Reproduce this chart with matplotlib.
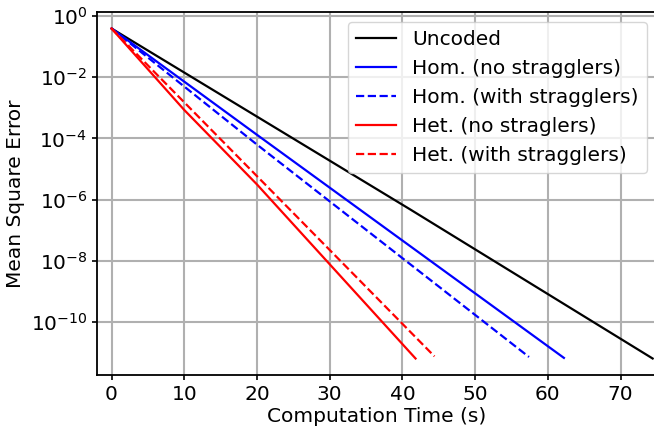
import numpy as np
import matplotlib
matplotlib.use('Agg')
import matplotlib.pyplot as plt

# computation time (s) and log10 of mean square error
uncoded_t = [0, 41.1, 74.4]
uncoded_log = [-0.41, -6.32, -11.18]
hom_t = [0, 20, 62.2]
hom_log = [-0.41, -3.88, -11.16]
hom_strag_t = [0, 20, 57.4]
hom_strag_log = [-0.41, -4.2, -11.13]
het_t = [0, 10, 20, 41.8]
het_log = [-0.41, -3.07, -5.5, -11.18]
het_strag_t = [0, 44.4]
het_strag_log = [-0.41, -11.11]

plt.rcParams['font.size'] = 14.5

fig = plt.figure(figsize=(6.54, 4.36), dpi=100)
ax = fig.add_axes([97 / 654, 61 / 436, 560 / 654, 363 / 436])

lw = 1.6
ax.semilogy(uncoded_t, 10 ** np.array(uncoded_log), color='k', lw=lw, label='Uncoded')
ax.semilogy(hom_t, 10 ** np.array(hom_log), color='b', lw=lw, label='Hom. (no stragglers)')
ax.semilogy(hom_strag_t, 10 ** np.array(hom_strag_log), color='b', ls='--', lw=lw, label='Hom. (with stragglers)')
ax.semilogy(het_t, 10 ** np.array(het_log), color='r', lw=lw, label='Het. (no straglers)')
ax.semilogy(het_strag_t, 10 ** np.array(het_strag_log), color='r', ls='--', lw=lw, label='Het. (with stragglers)')

ax.set_xlim(-2, 75)
ax.minorticks_off()
ax.grid(True, color='#b0b0b0', linewidth=1.5)
for s in ax.spines.values():
    s.set_linewidth(1.3)
ax.tick_params(width=1.2)
ax.set_xlabel('Computation Time (s)', labelpad=2)
ax.set_ylabel('Mean Square Error')
ax.legend(loc='upper right')

fig.savefig('out.png', dpi=100)
